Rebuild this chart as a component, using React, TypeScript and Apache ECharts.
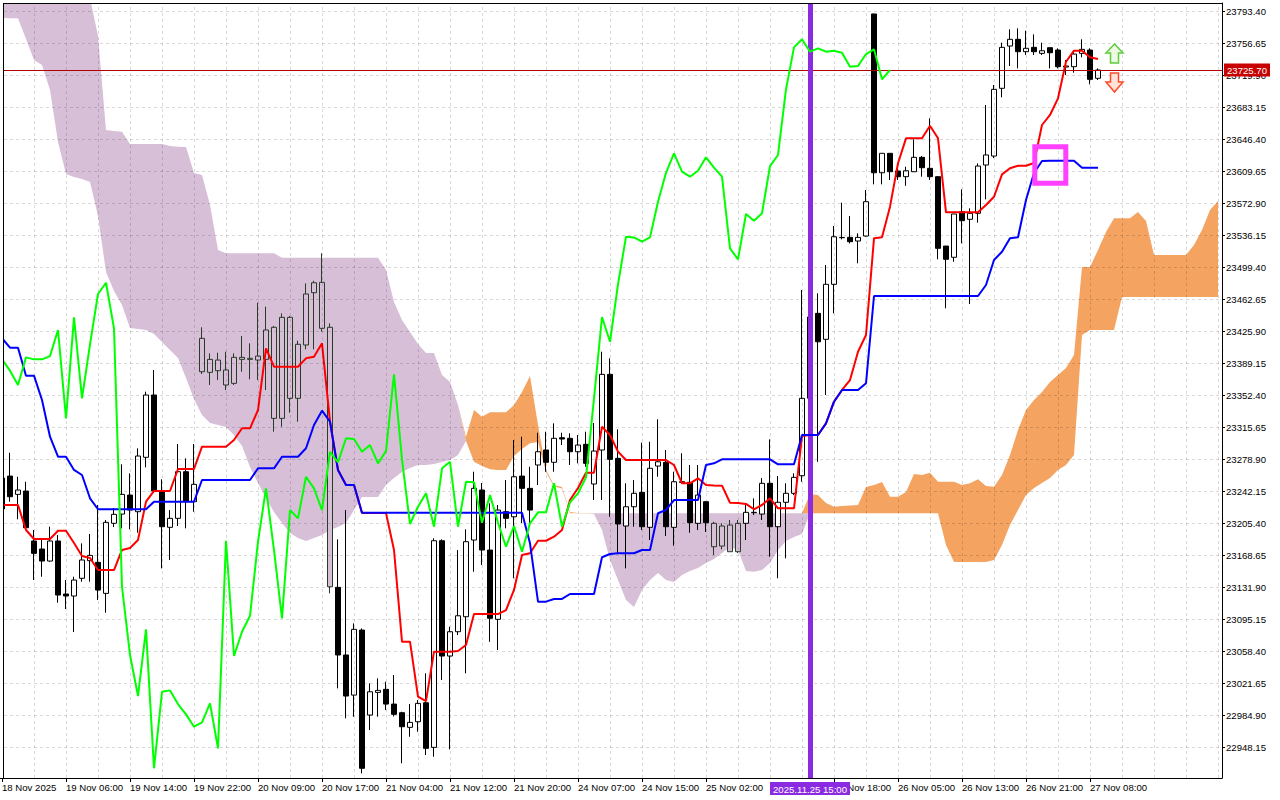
import { useEffect, useRef } from "react";
import * as echarts from "echarts";

const FONT = "'Liberation Sans', Arial, sans-serif";

const priceTicks = [23793.40, 23756.65, 23719.90, 23683.15, 23646.40, 23609.65, 23572.90, 23536.15, 23499.40, 23462.65, 23425.90, 23389.15, 23352.40, 23315.65, 23278.90, 23242.15, 23205.40, 23168.65, 23131.90, 23095.15, 23058.40, 23021.65, 22984.90, 22948.15];
const priceMin = 22913.37;
const priceMax = 23802.58;

// one label every 8 bars; the 25 Nov 10:00 slot is covered by the marker box in the terminal
const timeLabels = ["18 Nov 2025", "19 Nov 06:00", "19 Nov 14:00", "19 Nov 22:00", "20 Nov 09:00", "20 Nov 17:00", "21 Nov 04:00", "21 Nov 12:00", "21 Nov 20:00", "24 Nov 07:00", "24 Nov 15:00", "25 Nov 02:00", "", "25 Nov 18:00", "26 Nov 05:00", "26 Nov 13:00", "26 Nov 21:00", "27 Nov 08:00"];
const barsPerLabel = 8;
const totalBars = 153;

const lastPrice = 23725.70;
const markerBar = 101;
const markerLabel = "2025.11.25 15:00";
const chikouShift = 26;

// [open, close, low, high]
const candles = [
  [23222.0, 23257.5, 23218.5, 23260.0],
  [23259.8, 23236.1, 23230.4, 23286.6],
  [23238.8, 23243.8, 23210.2, 23259.0],
  [23242.6, 23200.5, 23199.8, 23253.3],
  [23185.3, 23171.1, 23140.5, 23197.9],
  [23176.1, 23162.3, 23144.3, 23186.4],
  [23162.3, 23185.3, 23161.5, 23201.7],
  [23185.3, 23123.3, 23114.5, 23192.1],
  [23124.5, 23122.2, 23107.2, 23140.5],
  [23122.2, 23140.5, 23080.8, 23144.3],
  [23142.5, 23163.5, 23138.6, 23182.6],
  [23162.7, 23168.8, 23138.6, 23193.3],
  [23160.8, 23129.0, 23117.6, 23226.6],
  [23125.2, 23206.7, 23103.0, 23209.4],
  [23205.6, 23215.9, 23201.3, 23223.1],
  [23216.2, 23238.8, 23199.8, 23273.3],
  [23238.0, 23220.8, 23198.7, 23262.9],
  [23218.9, 23282.8, 23194.8, 23291.6],
  [23281.3, 23352.8, 23269.8, 23356.6],
  [23352.8, 23242.6, 23240.3, 23381.5],
  [23242.6, 23201.7, 23153.9, 23256.1],
  [23201.0, 23211.3, 23163.5, 23220.8],
  [23211.3, 23264.8, 23202.5, 23296.6],
  [23264.8, 23230.4, 23199.8, 23280.1],
  [23230.4, 23250.3, 23218.9, 23296.6],
  [23417.8, 23379.5, 23376.9, 23430.5],
  [23378.8, 23393.7, 23364.3, 23400.6],
  [23392.9, 23380.7, 23370.0, 23401.3],
  [23381.5, 23364.3, 23358.5, 23402.5],
  [23366.2, 23396.0, 23364.3, 23400.6],
  [23396.0, 23393.7, 23379.5, 23420.5],
  [23394.9, 23393.7, 23370.8, 23412.1],
  [23392.9, 23397.5, 23370.0, 23458.7],
  [23393.7, 23427.4, 23358.5, 23454.1],
  [23430.5, 23326.0, 23310.7, 23432.0],
  [23326.0, 23441.9, 23316.4, 23446.5],
  [23441.9, 23349.0, 23332.5, 23443.4],
  [23349.0, 23411.0, 23322.1, 23415.1],
  [23410.2, 23468.7, 23405.2, 23480.9],
  [23470.2, 23481.6, 23405.2, 23483.9],
  [23482.1, 23429.3, 23425.4, 23515.4],
  [23430.5, 23132.8, 23125.2, 23435.1],
  [23132.1, 23054.5, 23016.2, 23187.2],
  [23054.5, 23007.4, 22981.8, 23220.8],
  [23008.5, 23083.9, 22983.7, 23090.8],
  [23083.1, 22924.5, 22918.7, 23085.0],
  [22985.6, 23012.3, 22968.4, 23022.0],
  [23011.6, 23013.9, 22983.7, 23027.7],
  [23015.1, 22998.2, 22991.3, 23023.8],
  [22998.2, 22986.4, 22984.0, 23031.5],
  [22988.3, 22972.2, 22930.2, 22989.4],
  [22971.5, 22977.2, 22960.7, 22998.2],
  [22977.9, 22999.0, 22966.4, 23002.8],
  [22999.7, 22947.4, 22939.7, 23033.5],
  [22948.5, 23185.6, 22937.8, 23188.4],
  [23185.6, 23053.3, 23025.8, 23187.2],
  [23053.3, 23081.2, 22946.2, 23086.9],
  [23081.2, 23099.5, 23077.4, 23174.9],
  [23098.4, 23184.5, 23033.5, 23198.7],
  [23186.4, 23245.7, 23150.0, 23264.8],
  [23243.8, 23174.9, 23157.7, 23251.8],
  [23174.9, 23096.6, 23069.7, 23228.5],
  [23095.4, 23220.8, 23060.2, 23226.6],
  [23218.9, 23211.3, 23199.8, 23255.2],
  [23213.1, 23259.0, 23142.5, 23301.1],
  [23259.8, 23245.7, 23205.9, 23304.9],
  [23245.7, 23220.8, 23205.6, 23270.5],
  [23272.5, 23287.7, 23249.5, 23309.5],
  [23289.7, 23275.6, 23264.8, 23310.7],
  [23275.6, 23303.1, 23264.8, 23320.3],
  [23303.8, 23302.3, 23295.4, 23309.5],
  [23303.1, 23287.7, 23272.5, 23308.8],
  [23287.7, 23295.4, 23274.4, 23306.9],
  [23296.2, 23274.4, 23270.5, 23310.7],
  [23250.7, 23288.5, 23232.3, 23320.7],
  [23289.7, 23376.5, 23232.3, 23402.5],
  [23376.5, 23279.0, 23213.1, 23394.9],
  [23280.1, 23204.8, 23171.5, 23313.4],
  [23202.5, 23224.6, 23153.9, 23251.5],
  [23224.6, 23240.0, 23201.7, 23255.2],
  [23241.1, 23201.7, 23197.9, 23298.1],
  [23201.0, 23268.7, 23186.4, 23299.2],
  [23271.3, 23276.2, 23259.0, 23324.9],
  [23275.6, 23201.7, 23191.0, 23289.7],
  [23201.0, 23253.3, 23179.9, 23264.8],
  [23253.3, 23252.6, 23251.5, 23286.0],
  [23252.6, 23206.3, 23194.8, 23272.5],
  [23205.6, 23238.0, 23197.9, 23272.5],
  [23230.4, 23206.3, 23195.6, 23231.2],
  [23205.6, 23178.7, 23169.2, 23207.4],
  [23179.5, 23202.5, 23175.7, 23205.6],
  [23203.6, 23173.0, 23173.0, 23209.4],
  [23173.0, 23205.6, 23171.5, 23209.4],
  [23205.6, 23218.2, 23186.4, 23228.5],
  [23217.7, 23218.2, 23215.1, 23234.2],
  [23216.2, 23251.5, 23209.4, 23257.5],
  [23251.5, 23201.7, 23167.2, 23301.9],
  [23201.7, 23229.7, 23142.5, 23259.8],
  [23229.7, 23240.0, 23165.4, 23251.5],
  [23240.0, 23258.3, 23238.0, 23262.9],
  [23260.2, 23349.0, 23253.3, 23473.3],
  [23349.0, 23442.3, 23324.1, 23461.8],
  [23446.5, 23413.9, 23276.2, 23469.5],
  [23416.7, 23479.8, 23352.8, 23501.9],
  [23479.8, 23534.4, 23446.5, 23546.7],
  [23533.3, 23533.6, 23531.4, 23573.4],
  [23533.7, 23528.7, 23526.8, 23558.2],
  [23529.5, 23533.7, 23503.9, 23538.3],
  [23535.2, 23574.6, 23534.4, 23588.0],
  [23790.0, 23607.8, 23594.5, 23790.0],
  [23607.8, 23630.1, 23594.5, 23630.1],
  [23630.1, 23609.0, 23599.5, 23630.1],
  [23609.8, 23603.3, 23599.5, 23613.2],
  [23603.3, 23610.1, 23592.9, 23614.7],
  [23609.0, 23625.5, 23608.6, 23646.2],
  [23625.5, 23613.6, 23603.3, 23627.0],
  [23612.9, 23603.3, 23599.5, 23670.3],
  [23603.3, 23521.1, 23508.5, 23603.3],
  [23523.7, 23508.5, 23452.3, 23523.7],
  [23510.8, 23560.5, 23505.7, 23560.5],
  [23563.1, 23552.8, 23526.8, 23588.8],
  [23554.4, 23561.3, 23457.2, 23567.0],
  [23561.3, 23615.5, 23550.5, 23618.6],
  [23616.7, 23628.2, 23577.3, 23685.5],
  [23627.0, 23703.5, 23624.7, 23708.5],
  [23704.7, 23751.7, 23694.4, 23757.0],
  [23753.2, 23760.9, 23730.3, 23772.4],
  [23760.9, 23746.7, 23727.6, 23773.5],
  [23746.7, 23750.6, 23742.9, 23770.8],
  [23751.7, 23746.7, 23742.9, 23766.6],
  [23744.8, 23747.8, 23742.9, 23757.0],
  [23751.3, 23745.5, 23727.6, 23751.3],
  [23748.6, 23729.5, 23727.6, 23750.6],
  [23729.1, 23730.3, 23720.0, 23737.2],
  [23729.5, 23744.0, 23722.6, 23748.6],
  [23744.8, 23749.4, 23740.3, 23760.9],
  [23748.6, 23715.0, 23709.3, 23750.6],
  [23716.2, 23725.7, 23714.2, 23727.6],
];

const tenkan = [
  23226.6, 23226.6, 23226.6, 23197.9, 23187.6, 23187.6, 23187.6, 23197.1, 23197.1, 23183.0,
  23168.1, 23165.8, 23152.0, 23152.0, 23152.0, 23175.0, 23177.3, 23186.5, 23230.4, 23242.7,
  23242.7, 23242.7, 23267.9, 23267.9, 23267.9, 23293.5, 23293.5, 23293.5, 23293.5, 23301.2,
  23314.6, 23314.6, 23335.6, 23406.4, 23385.3, 23385.3, 23385.3, 23385.3, 23394.9, 23396.8,
  23412.1, 23322.2, 23266.8, 23249.6, 23249.6, 23217.4, 23217.4, 23217.4, 23217.4, 23175.0,
  23069.8, 23069.8, 23006.7, 23001.7, 23058.3, 23058.3, 23058.3, 23059.1, 23066.0, 23101.5,
  23101.5, 23101.5, 23101.5, 23106.1, 23129.1, 23169.2, 23171.2, 23185.6, 23185.6, 23190.2,
  23197.9, 23232.3, 23246.1, 23263.7, 23263.7, 23316.4, 23306.9, 23287.8, 23278.2, 23278.2,
  23278.2, 23278.2, 23278.2, 23278.2, 23272.5, 23251.5, 23251.5, 23257.2, 23249.6, 23249.0,
  23248.8, 23229.2, 23228.9, 23227.8, 23221.7, 23226.6, 23234.3, 23222.8, 23222.8, 23222.8,
  23305.8, 23306.9, 23306.9, 23320.3, 23345.1, 23358.6, 23370.0, 23402.5, 23421.7, 23532.6,
  23533.8, 23568.9, 23618.7, 23647.3, 23647.3, 23647.3, 23661.8, 23647.3, 23562.4, 23562.4,
  23562.4, 23562.4, 23562.4, 23570.8, 23580.3, 23606.0, 23612.9, 23615.9, 23615.9, 23619.0,
  23662.6, 23674.1, 23693.2, 23735.2, 23747.9, 23747.9, 23740.3, 23738.3,
];

const kijun = [
  23417.9, 23407.1, 23407.1, 23375.0, 23375.0, 23347.1, 23305.0, 23282.0, 23282.0, 23266.8,
  23261.0, 23234.3, 23221.7, 23221.7, 23221.7, 23221.7, 23221.7, 23221.7, 23221.7, 23230.4,
  23230.4, 23230.4, 23230.4, 23230.4, 23230.4, 23255.3, 23255.3, 23255.3, 23255.3, 23255.3,
  23255.3, 23255.3, 23268.7, 23268.7, 23268.7, 23282.0, 23282.0, 23282.0, 23291.7, 23318.4,
  23334.8, 23322.2, 23266.8, 23249.6, 23249.6, 23217.8, 23217.8, 23217.8, 23217.8, 23217.8,
  23217.8, 23217.8, 23217.8, 23217.8, 23217.8, 23217.8, 23217.8, 23217.8, 23217.8, 23217.8,
  23217.8, 23217.8, 23217.8, 23217.8, 23217.8, 23217.8, 23182.7, 23115.7, 23115.7, 23118.8,
  23118.8, 23124.5, 23124.5, 23124.5, 23124.5, 23166.6, 23170.4, 23171.2, 23171.2, 23171.2,
  23175.0, 23175.0, 23217.1, 23220.9, 23232.3, 23232.3, 23232.3, 23232.3, 23272.5, 23274.4,
  23279.0, 23279.0, 23279.0, 23279.0, 23279.0, 23279.0, 23279.0, 23273.3, 23273.3, 23273.3,
  23306.9, 23306.9, 23306.9, 23320.3, 23345.1, 23358.6, 23358.6, 23358.6, 23366.2, 23466.4,
  23466.4, 23466.4, 23466.4, 23466.4, 23466.4, 23466.4, 23466.4, 23466.4, 23466.4, 23466.4,
  23466.4, 23466.4, 23466.4, 23479.0, 23507.7, 23517.2, 23532.6, 23533.8, 23576.5, 23607.5,
  23621.3, 23621.6, 23621.6, 23621.6, 23621.6, 23613.6, 23613.6, 23613.6,
];

const senkouA = [
  23785.4, 23785.0, 23785.0, 23761.3, 23737.2, 23731.4, 23702.8, 23643.1, 23606.4, 23602.9,
  23600.6, 23597.2, 23558.2, 23493.9, 23472.1, 23456.1, 23429.7, 23428.5, 23427.4, 23422.8,
  23413.6, 23404.4, 23395.3, 23372.3, 23348.2, 23329.9, 23320.7, 23318.4, 23316.1, 23306.9,
  23294.3, 23270.2, 23251.8, 23234.6, 23218.6, 23206.0, 23194.5, 23188.7, 23185.3, 23188.7,
  23192.2, 23197.9, 23201.4, 23206.0, 23220.9, 23235.8, 23235.8, 23235.8, 23249.6, 23257.6,
  23264.5, 23269.1, 23272.5, 23272.5, 23273.6, 23275.9, 23278.2, 23284.0, 23304.6, 23335.6,
  23327.9, 23333.0, 23333.0, 23333.0, 23341.3, 23356.3, 23374.6, 23318.4, 23266.8, 23249.6,
  23247.3, 23218.6, 23217.4, 23217.4, 23216.3, 23197.9, 23163.5, 23140.6, 23117.6, 23109.6,
  23129.1, 23140.6, 23148.6, 23140.6, 23138.3, 23146.3, 23150.9, 23154.3, 23160.1, 23164.7,
  23171.5, 23178.4, 23175.0, 23150.9, 23150.1, 23152.0, 23160.1, 23175.0, 23185.3, 23189.9,
  23193.3, 23239.2, 23238.1, 23228.9, 23224.7, 23225.5, 23226.0, 23226.6, 23247.3, 23249.6,
  23253.0, 23236.1, 23236.1, 23241.5, 23262.2, 23261.0, 23263.7, 23253.3, 23253.3, 23253.3,
  23249.6, 23251.5, 23256.1, 23248.4, 23247.6, 23261.0, 23284.0, 23312.7, 23335.6, 23347.1,
  23356.3, 23367.7, 23375.8, 23383.8, 23398.7, 23499.7, 23499.7, 23519.2, 23539.8, 23555.6,
  23555.6, 23555.6, 23562.8, 23552.5, 23513.4, 23513.4, 23513.4, 23513.4, 23513.4, 23524.9,
  23542.1, 23565.1, 23575.4,
];

const senkouB = [
  23834.7, 23834.7, 23834.7, 23834.7, 23831.3, 23829.0, 23826.7, 23823.2, 23819.8, 23816.3,
  23812.9, 23808.3, 23764.7, 23656.9, 23655.7, 23654.9, 23640.8, 23640.8, 23640.8, 23640.8,
  23640.8, 23638.5, 23637.7, 23637.4, 23607.5, 23605.2, 23570.8, 23519.2, 23515.4, 23515.4,
  23515.4, 23515.4, 23515.4, 23515.4, 23515.4, 23510.3, 23510.3, 23510.3, 23510.3, 23510.3,
  23510.3, 23510.3, 23510.3, 23510.3, 23510.3, 23510.3, 23510.3, 23510.3, 23496.2, 23459.5,
  23438.9, 23425.1, 23411.3, 23401.0, 23401.0, 23375.8, 23367.7, 23341.3, 23300.0, 23276.3,
  23271.4, 23267.6, 23266.8, 23266.8, 23282.8, 23290.9, 23297.4, 23298.9, 23264.5, 23247.8,
  23245.5, 23217.1, 23217.1, 23217.1, 23217.1, 23217.1, 23217.1, 23217.1, 23217.1, 23217.1,
  23217.1, 23217.1, 23217.1, 23217.1, 23217.1, 23217.1, 23217.1, 23217.1, 23217.1, 23217.1,
  23217.1, 23217.1, 23217.1, 23217.1, 23217.1, 23217.1, 23217.1, 23217.1, 23217.1, 23217.1,
  23217.1, 23217.1, 23217.1, 23217.1, 23217.1, 23217.1, 23217.1, 23217.1, 23217.1, 23217.1,
  23217.1, 23217.1, 23217.1, 23217.1, 23217.1, 23217.1, 23217.1, 23217.1, 23180.7, 23161.2,
  23161.2, 23161.2, 23161.2, 23161.2, 23163.5, 23180.7, 23203.7, 23220.9, 23238.1, 23246.1,
  23251.8, 23257.6, 23266.8, 23272.5, 23284.0, 23421.7, 23427.4, 23427.4, 23427.4, 23427.4,
  23465.3, 23465.3, 23465.3, 23465.3, 23465.3, 23465.3, 23465.3, 23465.3, 23465.3, 23465.3,
  23465.3, 23465.3, 23465.3,
];

// candles whose bodies sit inside the thistle cloud (drawn inverted by the terminal)
const inCloudBars = [25, 26, 27, 28, 29, 30, 31, 32, 33, 34, 35, 36, 37, 38, 39, 40, 41, 89, 90, 91, 92];

const C_THISTLE = "#d8bfd8";
const C_SANDY = "#f4a460";
const C_INV = "#283c28";

function buildOption() {
  const cats = Array.from({ length: totalBars }, (_, i) => String(i));
  const isLabelBar = (i: number) =>
    i % barsPerLabel === 0 && i / barsPerLabel < timeLabels.length && timeLabels[i / barsPerLabel] !== "";
  const chikou = candles.slice(chikouShift).map((c) => c[1]);
  const kumoBase = senkouA.map((a, i) => Math.min(a, senkouB[i]));
  const kumoDown = senkouA.map((a, i) => Math.max(senkouB[i] - a, 0));
  const kumoUp = senkouA.map((a, i) => Math.max(a - senkouB[i], 0));
  const candleData = candles.map((c, i) =>
    inCloudBars.includes(i)
      ? { value: c, itemStyle: { color: C_THISTLE, color0: C_INV, borderColor: C_INV, borderColor0: C_INV } }
      : c
  );
  const nulls = cats.map(() => null);
  const vGrid: any[] = [];
  for (let i = 4; i < totalBars; i += 4) vGrid.push({ xAxis: i });
  const hGrid = priceTicks.map((v) => ({ yAxis: v }));

  const lineBase = { type: "line", symbol: "none", showSymbol: false, silent: true, smooth: false };

  return {
    animation: false,
    backgroundColor: "#ffffff",
    textStyle: { fontFamily: FONT },
    grid: { left: -2, right: 58, top: 3, bottom: 22, containLabel: false, outerBoundsMode: "none" },
    xAxis: {
      type: "category",
      data: cats,
      boundaryGap: true,
      axisLine: { show: true, onZero: false, lineStyle: { color: "#000", width: 1 } },
      axisTick: { show: true, interval: (i: number) => isLabelBar(i), alignWithLabel: true, length: 4, lineStyle: { color: "#000" } },
      axisLabel: {
        show: true,
        interval: (i: number) => isLabelBar(i),
        formatter: (_v: string, i: number) => timeLabels[i / barsPerLabel] ?? "",
        align: "left",
        margin: 4,
        color: "#000",
        fontSize: 9.6,
        fontFamily: FONT,
      },
      splitLine: { show: false },
    },
    yAxis: {
      type: "value",
      position: "right",
      min: priceMin,
      max: priceMax,
      axisLine: { show: true, onZero: false, lineStyle: { color: "#000", width: 1 } },
      axisTick: { show: true, customValues: priceTicks, length: 3, lineStyle: { color: "#000" } },
      axisLabel: {
        show: true,
        customValues: priceTicks,
        formatter: (v: number) => v.toFixed(2),
        margin: 4,
        color: "#000",
        fontSize: 9.6,
        fontFamily: FONT,
      },
      splitLine: { show: false },
    },
    series: [
      { ...lineBase, name: "kumoBase", data: kumoBase, stack: "kumo", lineStyle: { width: 0, opacity: 0 }, z: 1 },
      { ...lineBase, name: "kumoDown", data: kumoDown, stack: "kumo", lineStyle: { width: 0, opacity: 0 }, areaStyle: { color: C_THISTLE, opacity: 1 }, z: 1 },
      { ...lineBase, name: "kumoUp", data: kumoUp, stack: "kumo", lineStyle: { width: 0, opacity: 0 }, areaStyle: { color: C_SANDY, opacity: 1 }, z: 1 },
      {
        ...lineBase,
        name: "grid",
        data: nulls,
        z: 2,
        markLine: {
          silent: true,
          symbol: ["none", "none"],
          label: { show: false },
          lineStyle: { color: "rgba(0,0,0,0.15)", width: 1, type: [3, 3] },
          data: [...hGrid, ...vGrid],
        },
      },
      {
        type: "candlestick",
        name: "price",
        data: candleData,
        barWidth: 5,
        silent: true,
        z: 3,
        itemStyle: { color: "#ffffff", color0: "#000000", borderColor: "#000000", borderColor0: "#000000", borderWidth: 1 },
      },
      { ...lineBase, name: "tenkan", data: tenkan, lineStyle: { color: "#ff0000", width: 2 }, z: 4 },
      { ...lineBase, name: "kijun", data: kijun, lineStyle: { color: "#0000ff", width: 2 }, z: 5 },
      { ...lineBase, name: "chikou", data: chikou, lineStyle: { color: "#00ff00", width: 2 }, z: 6 },
      {
        ...lineBase,
        name: "lastPrice",
        data: nulls,
        z: 7,
        markLine: {
          silent: true,
          symbol: ["none", "none"],
          lineStyle: { color: "#b00000", width: 1, type: "solid" },
          label: {
            show: true,
            position: "end",
            distance: 2,
            formatter: lastPrice.toFixed(2),
            color: "#fff",
            backgroundColor: "#c80000",
            padding: [2, 3, 1, 3],
            fontSize: 9.6,
            fontFamily: FONT,
          },
          data: [{ yAxis: lastPrice }],
        },
      },
      {
        ...lineBase,
        name: "marker",
        data: nulls,
        z: 8,
        markLine: {
          silent: true,
          symbol: ["none", "none"],
          lineStyle: { color: "#8a2be2", width: 5, type: "solid", opacity: 1 },
          label: {
            show: true,
            position: "start",
            distance: 4,
            formatter: markerLabel,
            color: "#fff",
            backgroundColor: "#8a2be2",
            padding: [2, 3, 1, 3],
            fontSize: 9.6,
            fontFamily: FONT,
          },
          data: [{ xAxis: markerBar }],
        },
      },
    ],
    graphic: [
      { type: "rect", silent: true, z: 100, shape: { x: 0, y: 0, width: 3, height: 778 }, style: { fill: "#ffffff" } },
      { type: "line", silent: true, z: 101, shape: { x1: 3.5, y1: 3, x2: 3.5, y2: 778 }, style: { stroke: "#000", lineWidth: 1 } },
      { type: "line", silent: true, z: 101, shape: { x1: 3, y1: 3.5, x2: 1222, y2: 3.5 }, style: { stroke: "#000", lineWidth: 1 } },
      { type: "rect", silent: true, z: 101, shape: { x: 1034.8, y: 146.8, width: 31, height: 36.4 }, style: { fill: "none", stroke: "#ff40ff", lineWidth: 5 } },
      {
        type: "polygon", silent: true, z: 101,
        shape: { points: [[1114.5, 44], [1123, 53], [1118.5, 53], [1118.5, 63], [1110.5, 63], [1110.5, 53], [1106, 53]] },
        style: { fill: "#eefbe4", stroke: "#5ccc3c", lineWidth: 1.5 },
      },
      {
        type: "polygon", silent: true, z: 101,
        shape: { points: [[1110.5, 73], [1118.5, 73], [1118.5, 82], [1123, 82], [1114.5, 92], [1106, 82], [1110.5, 82]] },
        style: { fill: "#ffe2d8", stroke: "#ff4a2a", lineWidth: 1.5 },
      },
    ],
  };
}

export default function App() {
  const ref = useRef<HTMLDivElement>(null);
  useEffect(() => {
    document.body.style.margin = "0";
    if (!ref.current) return;
    const chart = echarts.init(ref.current, null, { renderer: "svg" });
    chart.setOption(buildOption() as any);
    return () => chart.dispose();
  }, []);
  return <div ref={ref} style={{ width: 1280, height: 800, background: "#fff" }} />;
}
